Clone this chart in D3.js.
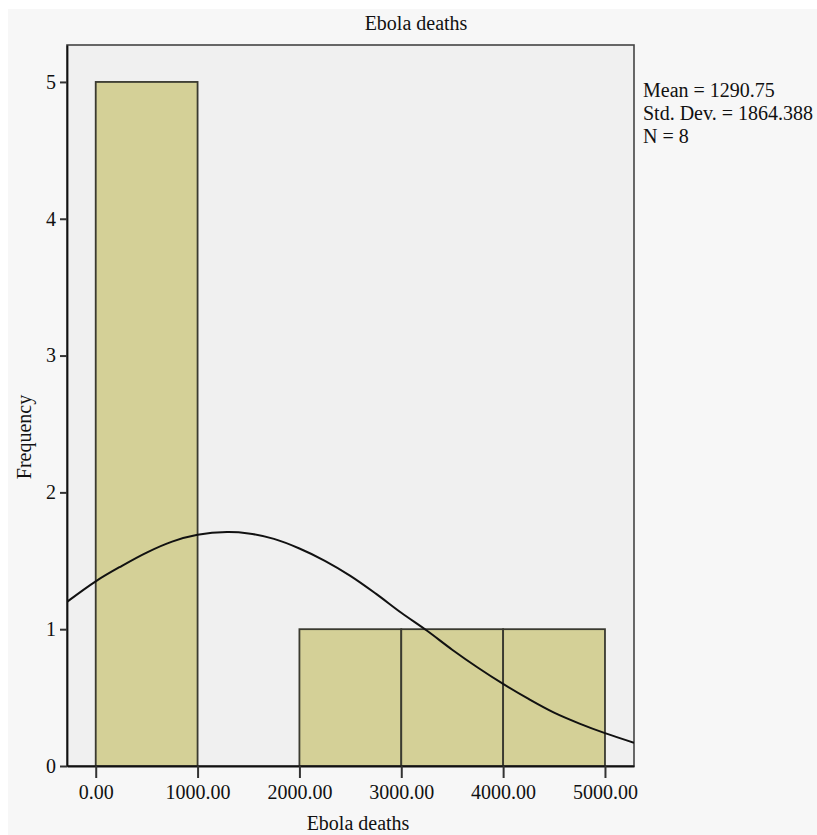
<!DOCTYPE html>
<html>
<head>
<meta charset="utf-8">
<script src="https://cdn.jsdelivr.net/npm/d3@7"></script>
<style>
  body { margin: 0; background: #ffffff; }
  svg text { font-family: "Liberation Serif", "Times New Roman", serif; fill: #111; }
</style>
</head>
<body>
<div id="container"></div>
<script>
// histogram bins (Ebola deaths) and frequencies
const binStarts = [0, 1000, 2000, 3000, 4000];
const binEnds = [1000, 2000, 3000, 4000, 5000];
const frequencies = [5, 0, 1, 1, 1];

// fitted normal curve (x value, frequency)
const curveX = [-282, 0, 250, 500, 750, 1000, 1290, 1500, 1750, 2000, 2250, 2500, 2750, 3000, 3250, 3500, 3750, 4000, 4250, 4500, 4750, 5000, 5285];
const curveY = [1.20, 1.35, 1.46, 1.56, 1.64, 1.69, 1.71, 1.70, 1.66, 1.59, 1.50, 1.39, 1.26, 1.12, 0.99, 0.85, 0.72, 0.60, 0.49, 0.39, 0.31, 0.24, 0.17];

const xTicks = [0, 1000, 2000, 3000, 4000, 5000];
const yTicks = [0, 1, 2, 3, 4, 5];
const statLines = ["Mean = 1290.75", "Std. Dev. = 1864.388", "N = 8"];

const width = 817, height = 835;
const plotLeft = 67, plotRight = 634, plotTop = 45, plotBottom = 766;
const fs = 20;

const svg = d3.select("#container").append("svg")
    .attr("width", width)
    .attr("height", height);

// page background
svg.append("rect")
    .attr("x", 8).attr("y", 9)
    .attr("width", width - 8).attr("height", height - 9)
    .attr("fill", "#f7f7f7");

var x = d3.scaleLinear()
    .domain([-282, 5285])
    .range([plotLeft, plotRight]);

var y = d3.scaleLinear()
    .domain([0, 5.27])
    .range([plotBottom, plotTop]);

// plot area
svg.append("rect")
    .attr("x", plotLeft).attr("y", plotTop)
    .attr("width", plotRight - plotLeft).attr("height", plotBottom - plotTop)
    .attr("fill", "#f0f0f0")
    .attr("stroke", "#444")
    .attr("stroke-width", 1.6);

svg.append("clipPath").attr("id", "plotClip")
    .append("rect")
    .attr("x", plotLeft).attr("y", plotTop)
    .attr("width", plotRight - plotLeft).attr("height", plotBottom - plotTop);

// bars
var bins = binStarts.map((s, i) => ({ x0: s, x1: binEnds[i], n: frequencies[i] }))
    .filter(d => d.n > 0);

svg.append("g")
    .selectAll("rect")
    .data(bins)
    .join("rect")
    .attr("x", d => x(d.x0))
    .attr("y", d => y(d.n))
    .attr("width", d => x(d.x1) - x(d.x0))
    .attr("height", d => y(0) - y(d.n))
    .attr("fill", "#d4d097")
    .attr("stroke", "#3a3a30")
    .attr("stroke-width", 1.8);

// normal curve
var pts = curveX.map((v, i) => [v, curveY[i]]);
svg.append("path")
    .datum(pts)
    .attr("clip-path", "url(#plotClip)")
    .attr("fill", "none")
    .attr("stroke", "#111")
    .attr("stroke-width", 2)
    .attr("d", d3.line()
        .curve(d3.curveCatmullRom)
        .x(d => x(d[0]))
        .y(d => y(d[1])));

// axes
var yAxis = svg.append("g")
    .attr("transform", "translate(" + plotLeft + ",0)")
    .call(d3.axisLeft(y).tickValues(yTicks).tickSize(7).tickSizeOuter(0).tickPadding(4).tickFormat(d3.format("d")));

var xAxis = svg.append("g")
    .attr("transform", "translate(0," + plotBottom + ")")
    .call(d3.axisBottom(x).tickValues(xTicks).tickSize(12).tickSizeOuter(0).tickPadding(7).tickFormat(d3.format(".2f")));

svg.selectAll(".domain").attr("stroke", "#111").attr("stroke-width", 1.8);
svg.selectAll(".tick line").attr("stroke", "#333").attr("stroke-width", 2);
svg.selectAll(".tick text")
    .attr("font-family", "Liberation Serif, serif")
    .attr("font-size", fs)
    .attr("fill", "#111");

// titles
svg.append("text")
    .attr("x", 416).attr("y", 30)
    .attr("text-anchor", "middle")
    .attr("font-size", fs)
    .text("Ebola deaths");

svg.append("text")
    .attr("x", 358).attr("y", 830)
    .attr("text-anchor", "middle")
    .attr("font-size", fs)
    .text("Ebola deaths");

svg.append("text")
    .attr("transform", "translate(31,437) rotate(-90)")
    .attr("text-anchor", "middle")
    .attr("font-size", fs)
    .text("Frequency");

// statistics
svg.append("g")
    .selectAll("text")
    .data(statLines)
    .join("text")
    .attr("x", 643)
    .attr("y", (d, i) => 97 + i * 23)
    .attr("font-size", fs)
    .text(d => d);
</script>
</body>
</html>
